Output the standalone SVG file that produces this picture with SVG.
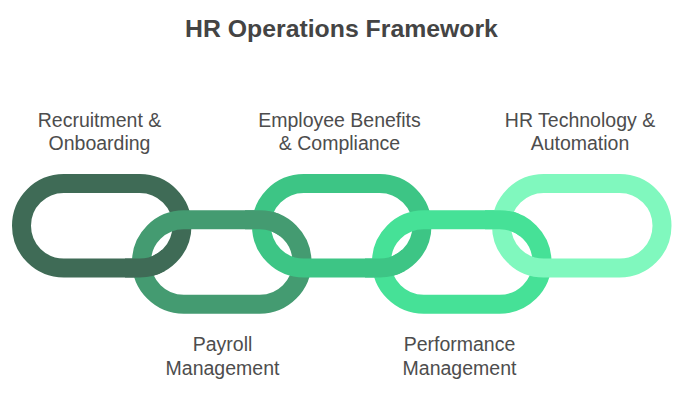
<svg xmlns="http://www.w3.org/2000/svg" xmlns:xlink="http://www.w3.org/1999/xlink" width="684" height="402" viewBox="0 0 684 402">
  <style>
    .link { fill: none; stroke-width: 19; }
    .l1 { stroke: #3F6B56; }
    .l2 { stroke: #449B71; }
    .l3 { stroke: #3DC585; }
    .l4 { stroke: #46E197; }
    .l5 { stroke: #80F8BE; }
    .title { font-family: "Liberation Sans", Arial, sans-serif; font-size: 24.8px; font-weight: bold; fill: #444444; text-anchor: middle; }
    .label { font-family: "Liberation Sans", Arial, sans-serif; font-size: 19.5px; fill: #4D4D4D; text-anchor: middle; }
  </style>
  <defs>
    <clipPath id="clip12"><rect x="125" y="250" width="40" height="35"/></clipPath>
    <clipPath id="clip23"><rect x="245" y="203" width="35" height="37"/></clipPath>
    <clipPath id="clip34"><rect x="365" y="250" width="40" height="35"/></clipPath>
    <clipPath id="clip45"><rect x="485" y="203" width="35" height="37"/></clipPath>
  </defs>
  <rect width="684" height="402" fill="#FFFFFF"/>
  <text class="title" x="341.5" y="36.5">HR Operations Framework</text>

  <g id="node-recruitment">
    <rect id="link1" class="link l1" x="21.5" y="183.5" width="160.5" height="84.5" rx="42.25"/>
    <text class="label" x="99.5" y="126.5">Recruitment &amp;</text>
    <text class="label" x="99.5" y="150">Onboarding</text>
  </g>
  <g id="node-payroll">
    <rect id="link2" class="link l2" x="141.5" y="219.75" width="160.5" height="84.5" rx="42.25"/>
    <text class="label" x="222.5" y="351">Payroll</text>
    <text class="label" x="222.5" y="375">Management</text>
  </g>
  <g id="node-benefits">
    <rect id="link3" class="link l3" x="261.5" y="183.5" width="160.5" height="84.5" rx="42.25"/>
    <text class="label" x="339.5" y="126.5">Employee Benefits</text>
    <text class="label" x="339.5" y="150">&amp; Compliance</text>
  </g>
  <g id="node-performance">
    <rect id="link4" class="link l4" x="381.5" y="219.75" width="160.5" height="84.5" rx="42.25"/>
    <text class="label" x="459.5" y="351">Performance</text>
    <text class="label" x="459.5" y="375">Management</text>
  </g>
  <g id="node-technology">
    <rect id="link5" class="link l5" x="501.5" y="183.5" width="160.5" height="84.5" rx="42.25"/>
    <text class="label" x="580" y="126.5">HR Technology &amp;</text>
    <text class="label" x="580" y="150">Automation</text>
  </g>

  <g id="connectors">
    <use xlink:href="#link1" href="#link1" clip-path="url(#clip12)"/>
    <use xlink:href="#link2" href="#link2" clip-path="url(#clip23)"/>
    <use xlink:href="#link3" href="#link3" clip-path="url(#clip34)"/>
    <use xlink:href="#link4" href="#link4" clip-path="url(#clip45)"/>
  </g>
</svg>
